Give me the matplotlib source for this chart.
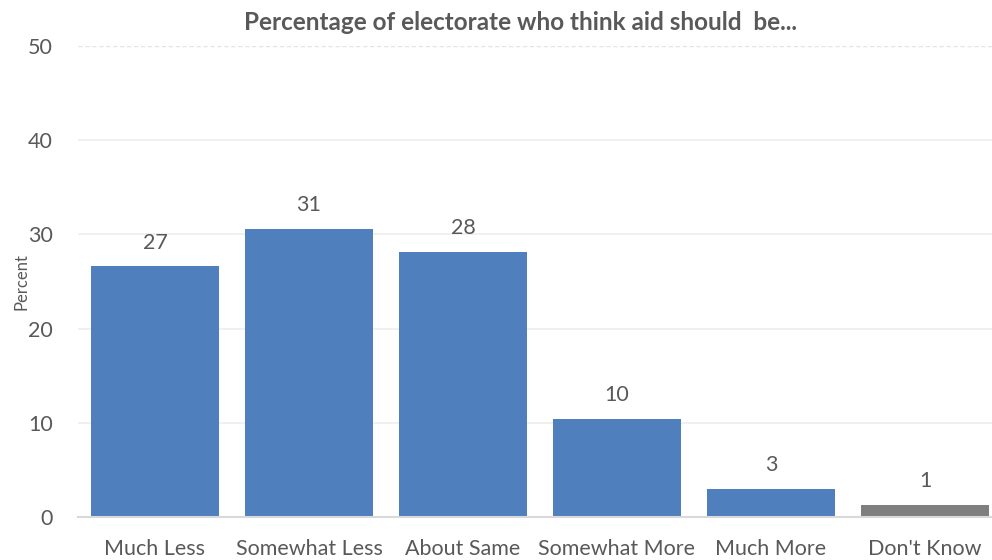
import matplotlib.pyplot as plt

categories = ['Much Less', 'Somewhat Less', 'About Same', 'Somewhat More', 'Much More', "Don't Know"]
percent = [26.6, 30.6, 28.1, 10.4, 3.0, 1.3]
colors = ['#4F7FBD'] * 5 + ['#7F7F7F']

plt.rcParams['font.family'] = ['Lato', 'DejaVu Sans']
text_color = '#595959'

fig = plt.figure(figsize=(9.92, 5.6), dpi=100)
ax = fig.add_axes([78 / 992, 43 / 560, 924 / 992, 471 / 560])

x = range(len(categories))
bars = ax.bar(x, percent, width=0.83, color=colors, zorder=2)
ax.bar_label(bars, labels=['%.0f' % v for v in percent], padding=10,
             fontsize=15.5, color=text_color)

ax.set_xlim(-0.5, 5.5)
ax.set_ylim(0, 50)
ax.set_yticks(range(0, 51, 10))
ax.set_xticks(list(x))
ax.set_xticklabels(categories)
ax.tick_params(axis='both', length=0, labelsize=15.5, colors=text_color)
ax.tick_params(axis='x', pad=16)
ax.tick_params(axis='y', pad=18)

for v in range(10, 50, 10):
    ax.axhline(v, color='#EDEDED', lw=1.2, zorder=1)
ax.axhline(50, color='#E3E3E3', lw=1, ls=(0, (3, 2)), zorder=1)

for side in ['top', 'right', 'left']:
    ax.spines[side].set_visible(False)
ax.spines['bottom'].set_color('#D9D9D9')
ax.spines['bottom'].set_linewidth(1.5)

ax.set_ylabel('Percent', fontsize=12, color=text_color, labelpad=-1)
fig.text(520 / 992, 1 - 22 / 560, 'Percentage of electorate who think aid should  be...',
         ha='center', va='center', fontsize=17.5, fontweight='bold', color=text_color)

fig.savefig('out.png', dpi=100)
